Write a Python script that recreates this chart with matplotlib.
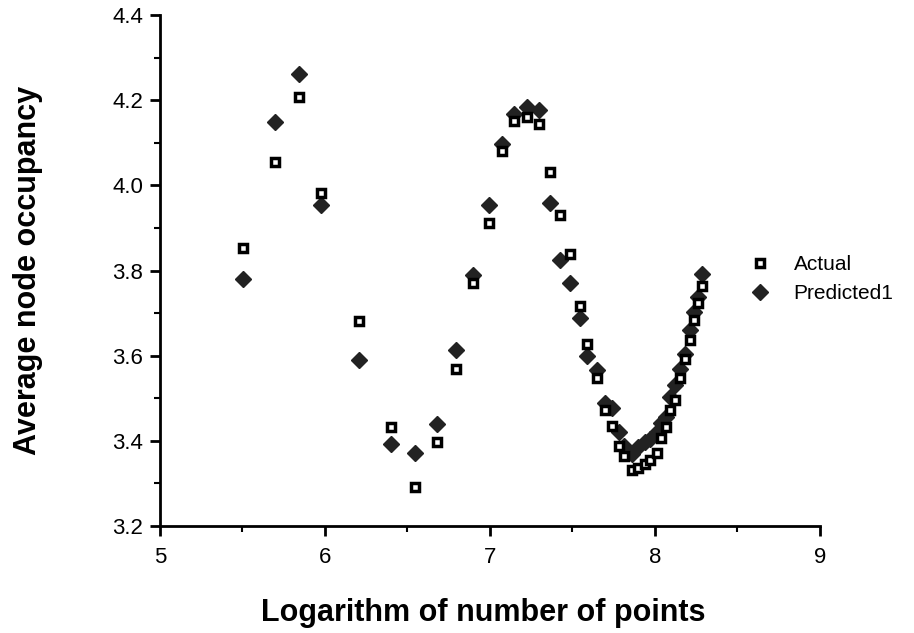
import numpy as np
import matplotlib
matplotlib.use("Agg")
import matplotlib.pyplot as plt
from matplotlib.ticker import MultipleLocator

plt.rcParams['font.family'] = ['Liberation Sans', 'DejaVu Sans']

# log of number of points
log_n = [5.505, 5.70, 5.84, 5.976, 6.206, 6.398, 6.545, 6.68, 6.796, 6.895,
         6.994, 7.075, 7.147, 7.226, 7.299, 7.364, 7.424, 7.485, 7.545, 7.59,
         7.65, 7.695, 7.74, 7.78, 7.815, 7.86, 7.90, 7.94, 7.97, 8.01,
         8.04, 8.065, 8.09, 8.12, 8.155, 8.185, 8.21, 8.235, 8.26, 8.285]

actual = [3.853, 4.055, 4.207, 3.983, 3.681, 3.432, 3.292, 3.398, 3.569, 3.772,
          3.913, 4.081, 4.151, 4.161, 4.144, 4.032, 3.930, 3.838, 3.717, 3.627,
          3.547, 3.473, 3.434, 3.387, 3.364, 3.331, 3.336, 3.345, 3.355, 3.371,
          3.406, 3.433, 3.472, 3.496, 3.547, 3.592, 3.637, 3.684, 3.723, 3.763]

predicted1 = [3.780, 4.150, 4.263, 3.955, 3.590, 3.392, 3.371, 3.439, 3.614, 3.789,
              3.954, 4.098, 4.167, 4.184, 4.178, 3.959, 3.824, 3.770, 3.688, 3.599,
              3.566, 3.489, 3.477, 3.422, 3.387, 3.370, 3.386, 3.398, 3.404, 3.421,
              3.441, 3.457, 3.503, 3.531, 3.570, 3.605, 3.660, 3.703, 3.738, 3.793]

fig = plt.figure(figsize=(9.14, 6.33), dpi=100)
ax = fig.add_axes([0.175, 0.169, 0.722, 0.807])

# diamonds first, squares on top
p2, = ax.plot(log_n, predicted1, linestyle='none', marker='D', ms=8,
              color='#222222', mec='#222222', label='Predicted1')
p1, = ax.plot(log_n, actual, linestyle='none', marker='s', ms=6.3,
              mfc='white', mec='black', mew=2.5, label='Actual')

ax.set_xlim(5, 9)
ax.set_ylim(3.2, 4.4)
ax.xaxis.set_major_locator(MultipleLocator(1))
ax.xaxis.set_minor_locator(MultipleLocator(0.5))
ax.yaxis.set_major_locator(MultipleLocator(0.2))
ax.yaxis.set_minor_locator(MultipleLocator(0.1))
ax.yaxis.set_major_formatter(matplotlib.ticker.FormatStrFormatter('%.1f'))

for s in ['top', 'right']:
    ax.spines[s].set_visible(False)
for s in ['left', 'bottom']:
    ax.spines[s].set_linewidth(2)
ax.tick_params(which='major', direction='out', length=7, width=2, labelsize=16)
ax.tick_params(axis='x', which='major', pad=8)
ax.tick_params(axis='y', which='major', pad=5)
ax.tick_params(which='minor', direction='out', length=4, width=1.5)

ax.set_xlabel('Logarithm of number of points', fontsize=22, fontweight='bold', va='center')
ax.set_ylabel('Average node occupancy', fontsize=22, fontweight='bold', va='center')
ax.xaxis.set_label_coords(0.49, -0.17)
ax.yaxis.set_label_coords(-0.2, 0.5)

fig.legend([p1, p2], ['Actual', 'Predicted1'], loc='center left',
           bbox_to_anchor=(0.80, 0.559), frameon=False, fontsize=15,
           handletextpad=1.1, labelspacing=0.45, handlelength=1.0)

fig.savefig('out.png', dpi=100)
